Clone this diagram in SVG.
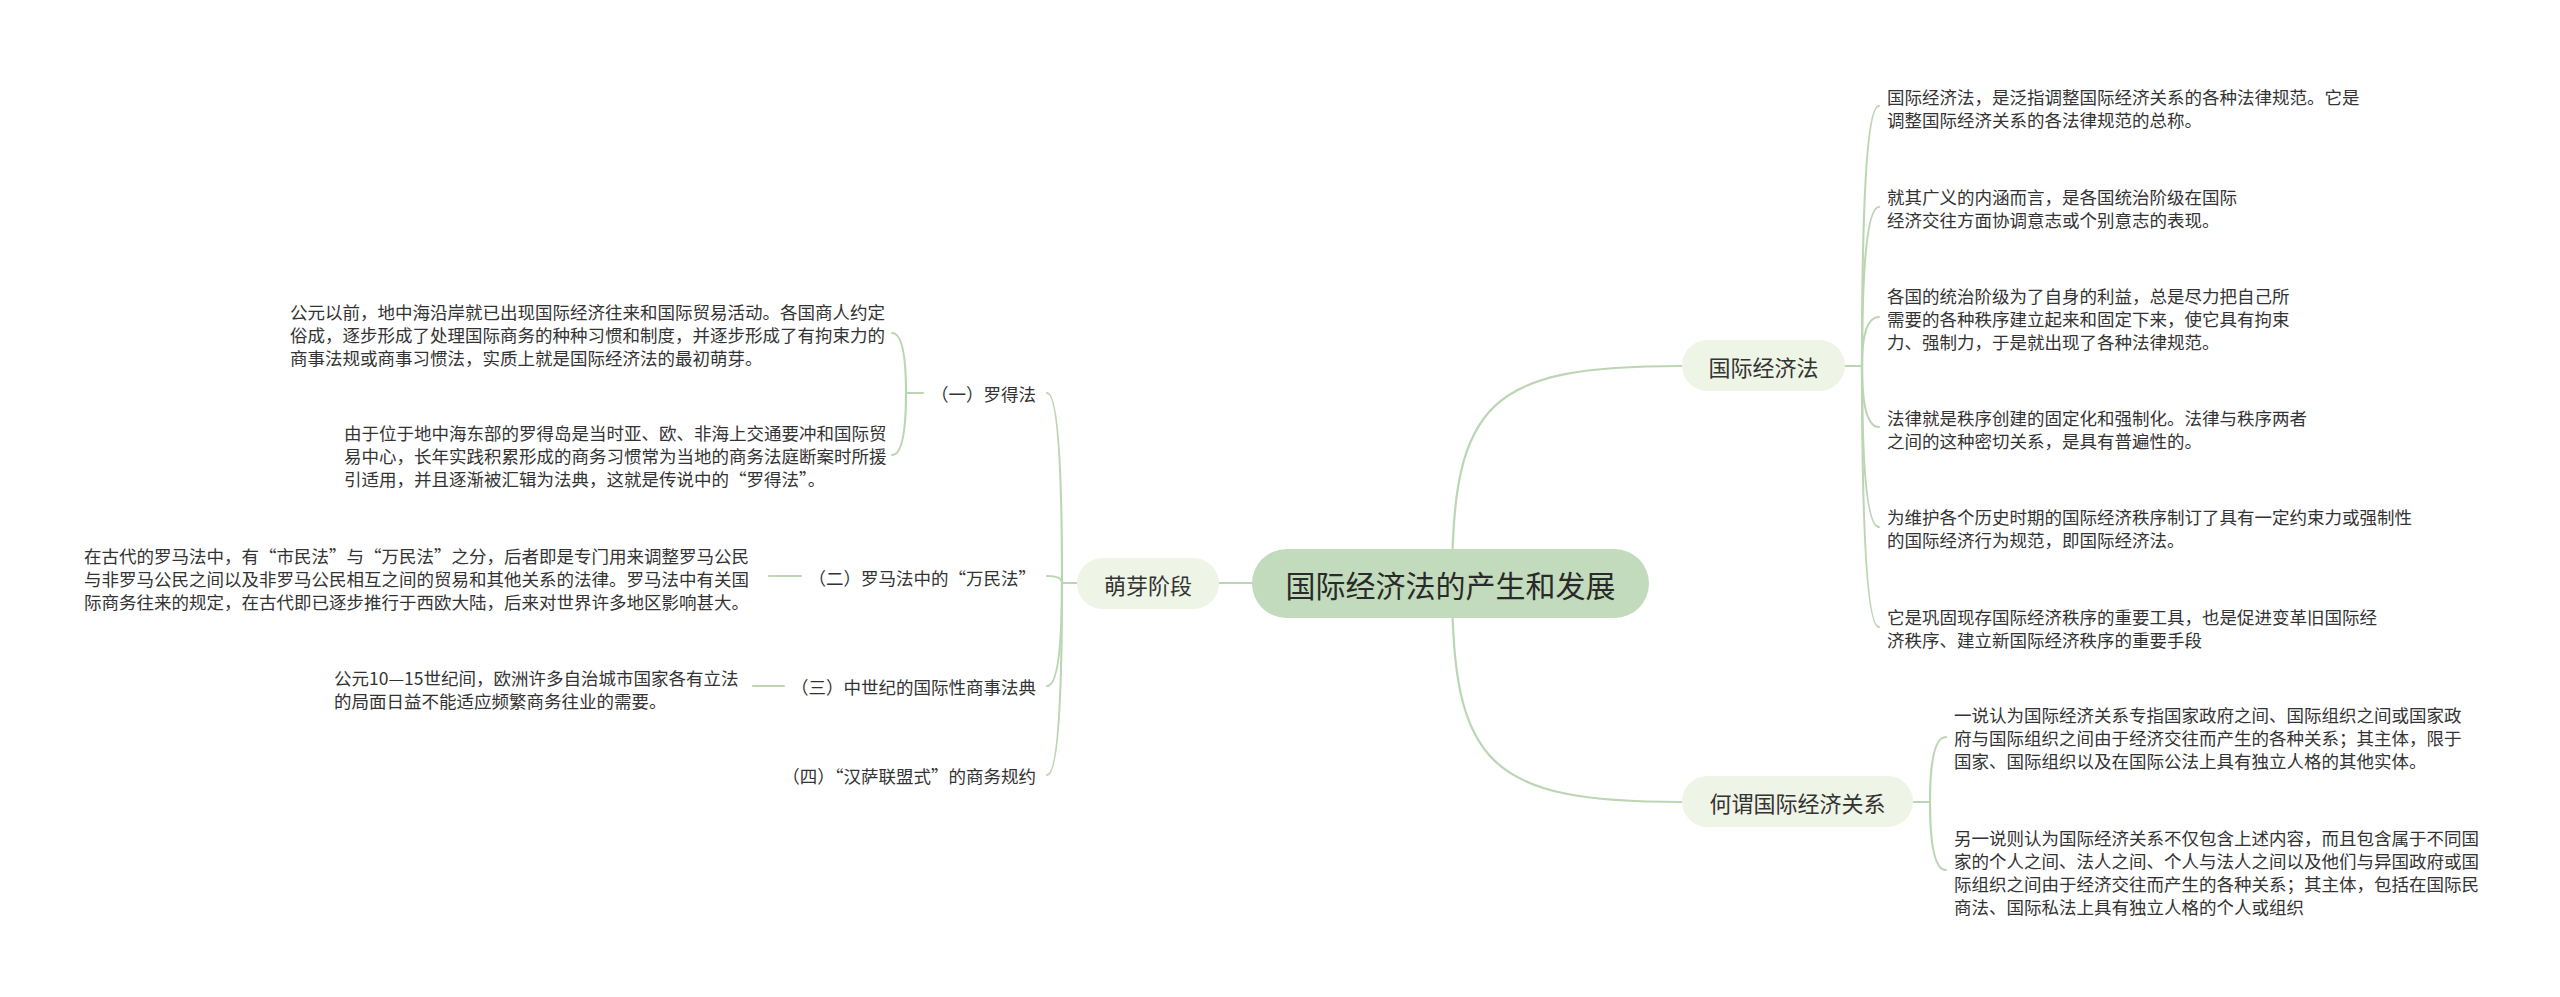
<svg xmlns="http://www.w3.org/2000/svg" width="2560" height="997" viewBox="0 0 2560 997">
<style>
text{font-family:"Noto Sans CJK SC","Noto Sans",sans-serif;fill:#333;dominant-baseline:central}
.p{font-size:17.5px}
.lab{font-size:17.5px;text-anchor:end}
.l1{font-size:22px;text-anchor:middle}
.root{font-size:30px;text-anchor:middle;fill:#2a2a2a}
.c{fill:none;stroke:#bcd6b4;stroke-width:2.2;stroke-linecap:round}
</style>
<rect width="2560" height="997" fill="#fff"/>
<g id="connectors">
<path class="c" d="M1452 583 C1452 400 1490 366 1682 366"/>
<path class="c" d="M1452 583 C1452 766 1490 802 1682 802"/>
<path class="c" d="M1219 583 L1252 583"/>
<path class="c" d="M1845 366 L1862 366"/>
<path class="c" d="M1862 366 Q1862 106 1879 106"/>
<path class="c" d="M1862 366 Q1862 207 1879 207"/>
<path class="c" d="M1862 366 Q1862 317 1879 317"/>
<path class="c" d="M1862 366 Q1862 427 1879 427"/>
<path class="c" d="M1862 366 Q1862 527 1879 527"/>
<path class="c" d="M1862 366 Q1862 627 1879 627"/>
<path class="c" d="M1913 802 L1930 802"/>
<path class="c" d="M1930 802 Q1930 737 1946 737"/>
<path class="c" d="M1930 802 Q1930 870 1946 870"/>
<path class="c" d="M1077 583 L1062 583"/>
<path class="c" d="M1062 583 Q1062 393 1047 393"/>
<path class="c" d="M1062 583 Q1062 576 1047 576"/>
<path class="c" d="M1062 583 Q1062 686 1047 686"/>
<path class="c" d="M1062 583 Q1062 775 1047 775"/>
<path class="c" d="M923 393 L906 393"/>
<path class="c" d="M906 393 Q906 333 892 333"/>
<path class="c" d="M906 393 Q906 455 892 455"/>
<path class="c" d="M769 576 L801 576"/>
<path class="c" d="M753 686 L784 686"/>
</g>
<g id="root">
<rect x="1252" y="549" width="397" height="69" rx="34.5" fill="#c2dbbc"/>
<text class="root" x="1450.5" y="583.5">国际经济法的产生和发展</text>
</g>
<g id="n-gjjjf">
<rect x="1682" y="340" width="163" height="51" rx="25.5" fill="#eef4e6"/>
<text class="l1" x="1763.5" y="366">国际经济法</text>
</g>
<g id="n-hwgx">
<rect x="1682" y="776" width="231" height="51" rx="25.5" fill="#eef4e6"/>
<text class="l1" x="1797.5" y="802">何谓国际经济关系</text>
</g>
<g id="n-myjd">
<rect x="1077" y="558" width="142" height="51" rx="25.5" fill="#eef4e6"/>
<text class="l1" x="1148" y="583.5">萌芽阶段</text>
</g>
<g id="r1"><text class="p" x="1887" y="96">国际经济法，是泛指调整国际经济关系的各种法律规范。它是</text><text class="p" x="1887" y="119">调整国际经济关系的各法律规范的总称。</text></g>
<g id="r2"><text class="p" x="1887" y="196">就其广义的内涵而言，是各国统治阶级在国际</text><text class="p" x="1887" y="219">经济交往方面协调意志或个别意志的表现。</text></g>
<g id="r3"><text class="p" x="1887" y="295">各国的统治阶级为了自身的利益，总是尽力把自己所</text><text class="p" x="1887" y="318">需要的各种秩序建立起来和固定下来，使它具有拘束</text><text class="p" x="1887" y="341">力、强制力，于是就出现了各种法律规范。</text></g>
<g id="r4"><text class="p" x="1887" y="417">法律就是秩序创建的固定化和强制化。法律与秩序两者</text><text class="p" x="1887" y="440">之间的这种密切关系，是具有普遍性的。</text></g>
<g id="r5"><text class="p" x="1887" y="516">为维护各个历史时期的国际经济秩序制订了具有一定约束力或强制性</text><text class="p" x="1887" y="539">的国际经济行为规范，即国际经济法。</text></g>
<g id="r6"><text class="p" x="1887" y="616">它是巩固现存国际经济秩序的重要工具，也是促进变革旧国际经</text><text class="p" x="1887" y="639">济秩序、建立新国际经济秩序的重要手段</text></g>
<g id="ra"><text class="p" x="1954" y="714">一说认为国际经济关系专指国家政府之间、国际组织之间或国家政</text><text class="p" x="1954" y="737">府与国际组织之间由于经济交往而产生的各种关系；其主体，限于</text><text class="p" x="1954" y="760">国家、国际组织以及在国际公法上具有独立人格的其他实体。</text></g>
<g id="rb"><text class="p" x="1954" y="837">另一说则认为国际经济关系不仅包含上述内容，而且包含属于不同国</text><text class="p" x="1954" y="860">家的个人之间、法人之间、个人与法人之间以及他们与异国政府或国</text><text class="p" x="1954" y="883">际组织之间由于经济交往而产生的各种关系；其主体，包括在国际民</text><text class="p" x="1954" y="906">商法、国际私法上具有独立人格的个人或组织</text></g>
<g id="l1"><text class="lab" x="1036" y="393">（一）罗得法</text></g>
<g id="l2"><text class="lab" x="1036" y="577">（二）罗马法中的“万民法”</text></g>
<g id="l3"><text class="lab" x="1036" y="686">（三）中世纪的国际性商事法典</text></g>
<g id="l4"><text class="lab" x="1036" y="775">（四）“汉萨联盟式”的商务规约</text></g>
<g id="l1a"><text class="p" x="290" y="311">公元以前，地中海沿岸就已出现国际经济往来和国际贸易活动。各国商人约定</text><text class="p" x="290" y="334">俗成，逐步形成了处理国际商务的种种习惯和制度，并逐步形成了有拘束力的</text><text class="p" x="290" y="357">商事法规或商事习惯法，实质上就是国际经济法的最初萌芽。</text></g>
<g id="l1b"><text class="p" x="344" y="432">由于位于地中海东部的罗得岛是当时亚、欧、非海上交通要冲和国际贸</text><text class="p" x="344" y="455">易中心，长年实践积累形成的商务习惯常为当地的商务法庭断案时所援</text><text class="p" x="344" y="478">引适用，并且逐渐被汇辑为法典，这就是传说中的“罗得法”。</text></g>
<g id="l2a"><text class="p" x="84" y="555">在古代的罗马法中，有“市民法”与“万民法”之分，后者即是专门用来调整罗马公民</text><text class="p" x="84" y="578">与非罗马公民之间以及非罗马公民相互之间的贸易和其他关系的法律。罗马法中有关国</text><text class="p" x="84" y="601">际商务往来的规定，在古代即已逐步推行于西欧大陆，后来对世界许多地区影响甚大。</text></g>
<g id="l3a"><text class="p" x="334" y="677">公元10—15世纪间，欧洲许多自治城市国家各有立法</text><text class="p" x="334" y="700">的局面日益不能适应频繁商务往业的需要。</text></g>
</svg>
